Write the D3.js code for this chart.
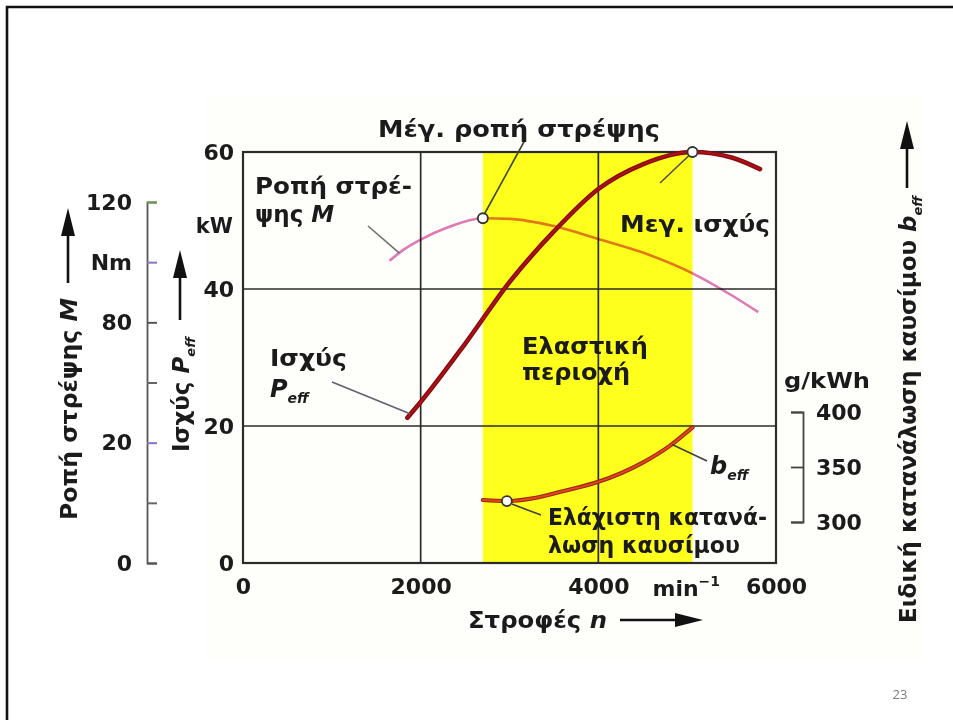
<!DOCTYPE html>
<html>
<head>
<meta charset="utf-8">
<script src="https://cdn.jsdelivr.net/npm/d3@7"></script>
<style>
  html, body { margin: 0; padding: 0; background: #fff; }
  svg { display: block; }
  text { font-family: "DejaVu Sans", sans-serif; font-weight: bold; fill: #1b1b1b; }
  text.page { font-family: "Open Sans", sans-serif; font-weight: normal; fill: #7a7a7a; }
</style>
</head>
<body>
<svg id="chart" width="953" height="720"></svg>
<script>
// Engine speed (min^-1) axis
const speedTicks = [0, 2000, 4000, 6000];
// Effective power P_eff (kW)
const powerTicks = [0, 20, 40, 60];
const powerSpeed = [1850, 2000, 2500, 3000, 3500, 4000, 4500, 5060, 5500, 5820];
const powerValues = [21.2, 23.5, 32.0, 41.0, 48.4, 54.6, 58.2, 60.0, 59.2, 57.5];
// Torque M (Nm)
const torqueTicks = [0, 20, 40, 60, 80, 100, 120];
const torqueTickLabels = ["0", "", "20", "", "80", "Nm", "120"];
const torqueSpeed = [1650, 1800, 2000, 2300, 2700, 3000, 3500, 4000, 4500, 5060, 5500, 5800];
const torqueValues = [100.5, 104, 107.5, 111.5, 114.6, 114.4, 112, 107.7, 103.2, 96.3, 89, 83.4];
// Specific fuel consumption b_eff (g/kWh)
const bTicks = [300, 350, 400];
const bSpeed = [2700, 2970, 3300, 3600, 4000, 4500, 4800, 5060];
const bValues = [320, 319, 322, 328, 336.5, 354, 369, 386];
// Elastic range: from max torque speed to max power speed
const elasticRange = [2700, 5060];
const maxTorque = { n: 2700, m: 114.6 };
const maxPower = { n: 5060, p: 60 };
const minConsumption = { n: 2970, b: 319 };

const svg = d3.select("#chart");

const x = d3.scaleLinear().domain([0, 6000]).range([243, 776]);
const yP = d3.scaleLinear().domain([0, 60]).range([563, 152]);
const yM = d3.scaleLinear().domain([0, 120]).range([563, 202]);
const yB = d3.scaleLinear().domain([300, 400]).range([522, 412]);

// slide frame
svg.append("line").attr("x1", 6).attr("x2", 953).attr("y1", 7).attr("y2", 7)
  .attr("stroke", "#111").attr("stroke-width", 2.6);
svg.append("line").attr("x1", 7).attr("x2", 7).attr("y1", 6).attr("y2", 720)
  .attr("stroke", "#111").attr("stroke-width", 2.6);

// very faint paper tone behind the figure
svg.append("rect").attr("x", 205).attr("y", 95).attr("width", 719).attr("height", 565)
  .attr("fill", "#fefefb");

// elastic range band
svg.append("rect")
  .attr("x", x(elasticRange[0])).attr("y", yP(60))
  .attr("width", x(elasticRange[1]) - x(elasticRange[0]))
  .attr("height", yP(0) - yP(60))
  .attr("fill", "#ffff1e");

// grid
const grid = svg.append("g").attr("stroke", "#2b2b2b").attr("stroke-width", 1.7);
[2000, 4000].forEach(v => grid.append("line")
  .attr("x1", x(v)).attr("x2", x(v)).attr("y1", yP(0)).attr("y2", yP(60)));
[20, 40].forEach(v => grid.append("line")
  .attr("x1", x(0)).attr("x2", x(6000)).attr("y1", yP(v)).attr("y2", yP(v)));
svg.append("rect")
  .attr("x", x(0)).attr("y", yP(60))
  .attr("width", x(6000) - x(0)).attr("height", yP(0) - yP(60))
  .attr("fill", "none").attr("stroke", "#2b2b2b").attr("stroke-width", 2.2);

const fontAxis = g => g.attr("font-family", "DejaVu Sans").attr("font-size", 22).attr("font-weight", "bold");

// power axis (left edge of plot)
svg.append("g").attr("transform", `translate(${x(0)},0)`)
  .call(d3.axisLeft(yP).tickValues(powerTicks).tickSize(0).tickPadding(9))
  .call(fontAxis)
  .call(g => g.select(".domain").remove())
  .call(g => g.selectAll("text").attr("fill", "#1b1b1b"));
svg.append("text").attr("x", 233).attr("y", 233).attr("text-anchor", "end")
  .attr("font-size", 21).text("kW");

// speed axis
svg.append("g").attr("transform", `translate(0,${yP(0)})`)
  .call(d3.axisBottom(x).tickValues(speedTicks).tickSize(0).tickPadding(15).tickFormat(d3.format("d")))
  .call(fontAxis)
  .call(g => g.select(".domain").remove())
  .call(g => g.selectAll("text").attr("fill", "#1b1b1b"));
const unit = svg.append("text").attr("x", x(4990)).attr("y", 596)
  .attr("text-anchor", "middle").attr("font-size", 22);
unit.append("tspan").text("min");
unit.append("tspan").attr("font-size", 14).attr("dy", -10).text("−1");

// torque axis
const torqueTickColor = ["#555", "#666", "#8d72c8", "#666", "#555", "#8d72c8", "#6f9c4f"];
svg.append("g").attr("transform", "translate(147,0)")
  .call(d3.axisLeft(yM).tickValues(torqueTicks).tickSize(-10).tickSizeOuter(-10).tickPadding(15)
    .tickFormat((d, i) => torqueTickLabels[i]))
  .call(fontAxis)
  .call(g => g.select(".domain").attr("stroke", "#555").attr("stroke-width", 1.8))
  .call(g => g.selectAll(".tick line").attr("stroke", (d, i) => torqueTickColor[i]).attr("stroke-width", 2))
  .call(g => g.selectAll("text").attr("fill", "#1b1b1b"));

// fuel consumption axis (bracket)
svg.append("g").attr("transform", "translate(803,0)")
  .call(d3.axisRight(yB).tickValues(bTicks).tickSize(-12).tickSizeOuter(-12).tickPadding(13))
  .call(fontAxis)
  .call(g => g.select(".domain").attr("stroke", "#444").attr("stroke-width", 1.8))
  .call(g => g.selectAll(".tick line").attr("stroke", "#444").attr("stroke-width", 1.8))
  .call(g => g.selectAll("text").attr("fill", "#1b1b1b"));
svg.append("text").attr("x", 784).attr("y", 388).attr("font-size", 21)
  .attr("textLength", 86).attr("lengthAdjust", "spacingAndGlyphs").text("g/kWh");

// curves
const curve = d3.curveMonotoneX;
const torqueLine = d3.line().x((d, i) => x(torqueSpeed[i])).y(d => yM(d)).curve(curve);
const powerLine = d3.line().x((d, i) => x(powerSpeed[i])).y(d => yP(d)).curve(curve);
const bLine = d3.line().x((d, i) => x(bSpeed[i])).y(d => yB(d)).curve(curve);

svg.append("path").attr("d", torqueLine(torqueValues))
  .attr("fill", "none").attr("stroke", "#e07ab6").attr("stroke-width", 2.6)
  .style("mix-blend-mode", "multiply");

svg.append("path").attr("d", bLine(bValues))
  .attr("fill", "none").attr("stroke", "#8e2a12").attr("stroke-width", 4.2).attr("stroke-linecap", "round");
svg.append("path").attr("d", bLine(bValues))
  .attr("fill", "none").attr("stroke", "#e8431c").attr("stroke-width", 2).attr("stroke-linecap", "round");

svg.append("path").attr("d", powerLine(powerValues))
  .attr("fill", "none").attr("stroke", "#860a10").attr("stroke-width", 4.6).attr("stroke-linecap", "round");
svg.append("path").attr("d", powerLine(powerValues))
  .attr("fill", "none").attr("stroke", "#ad1118").attr("stroke-width", 2).attr("stroke-linecap", "round");

// leader lines
const leader = (x1, y1, x2, y2, c) => svg.append("line")
  .attr("x1", x1).attr("y1", y1).attr("x2", x2).attr("y2", y2)
  .attr("stroke", c || "#555").attr("stroke-width", 1.6);
leader(x(maxTorque.n) + 2, yM(maxTorque.m) - 5, 525, 140, "#3d4a2a");
leader(368, 226, x(1760), yM(103), "#707070");
leader(660, 183, x(maxPower.n) - 4, yP(maxPower.p) + 4, "#505050");
leader(332, 382, x(1880), yP(21.8), "#606070");
leader(x(4830), yB(370.5), 707, 461, "#404040");
leader(x(minConsumption.n) + 5, yB(minConsumption.b) + 3, 541, 515, "#404040");

// markers
[[x(maxTorque.n), yM(maxTorque.m)], [x(maxPower.n), yP(maxPower.p)],
 [x(minConsumption.n), yB(minConsumption.b)]].forEach(([cx, cy]) =>
  svg.append("circle").attr("cx", cx).attr("cy", cy).attr("r", 5)
    .attr("fill", "#fff").attr("stroke", "#333").attr("stroke-width", 1.8));

// annotations
const label = (tx, ty, str, w) => {
  const t = svg.append("text").attr("x", tx).attr("y", ty).attr("font-size", 23).text(str);
  if (w) t.attr("textLength", w).attr("lengthAdjust", "spacingAndGlyphs");
  return t;
};
label(378, 137, "Μέγ. ροπή στρέψης", 282);
label(255, 194, "Ροπή στρέ-", 157);
const psi = label(255, 222, "ψης ");
psi.append("tspan").attr("font-style", "italic").text("M");
label(620, 232, "Μεγ. ισχύς", 150);
label(270, 366, "Ισχύς", 77);
const pe = svg.append("text").attr("x", 270).attr("y", 397).attr("font-size", 24);
pe.append("tspan").attr("font-style", "italic").text("P");
pe.append("tspan").attr("font-size", 14).attr("font-style", "italic").attr("dy", 6).text("eff");
label(522, 354, "Ελαστική", 126);
label(522, 380, "περιοχή", 108);
const be = svg.append("text").attr("x", 710).attr("y", 474).attr("font-size", 24);
be.append("tspan").attr("font-style", "italic").text("b");
be.append("tspan").attr("font-size", 14).attr("font-style", "italic").attr("dy", 6).text("eff");
label(548, 525, "Ελάχιστη κατανά-", 219);
label(548, 553, "λωση καυσίμου", 192);

// arrow from (x1,y1) to tip (x2,y2)
function arrow(x1, y1, x2, y2) {
  const ang = Math.atan2(y2 - y1, x2 - x1);
  const len = 28, half = 7;
  const bx = x2 - len * Math.cos(ang), by = y2 - len * Math.sin(ang);
  svg.append("line").attr("x1", x1).attr("y1", y1).attr("x2", bx).attr("y2", by)
    .attr("stroke", "#111").attr("stroke-width", 2.6);
  const px = -Math.sin(ang) * half, py = Math.cos(ang) * half;
  svg.append("path")
    .attr("d", `M${x2},${y2}L${bx + px},${by + py}L${bx - px},${by - py}Z`)
    .attr("fill", "#111");
}

// x title
const xt = svg.append("text").attr("x", 468).attr("y", 628).attr("font-size", 23)
  .attr("textLength", 139).attr("lengthAdjust", "spacingAndGlyphs");
xt.append("tspan").text("Στροφές ");
xt.append("tspan").attr("font-style", "italic").text("n");
arrow(620, 620, 703, 620);

// left titles (rotated)
const mt = svg.append("text").attr("transform", "translate(77,520) rotate(-90)").attr("font-size", 23)
  .attr("textLength", 222).attr("lengthAdjust", "spacingAndGlyphs");
mt.append("tspan").text("Ροπή στρέψης ");
mt.append("tspan").attr("font-style", "italic").text("M");
arrow(68, 283, 68, 208);

const pt = svg.append("text").attr("transform", "translate(189,452) rotate(-90)").attr("font-size", 23);
pt.append("tspan").text("Ισχύς ");
pt.append("tspan").attr("font-style", "italic").text("P");
pt.append("tspan").attr("font-size", 13).attr("font-style", "italic").attr("dy", 6).text("eff");
arrow(180, 320, 180, 250);

const bt = svg.append("text").attr("transform", "translate(916,623) rotate(-90)").attr("font-size", 23)
  .attr("textLength", 427).attr("lengthAdjust", "spacingAndGlyphs");
bt.append("tspan").text("Ειδική κατανάλωση καυσίμου ");
bt.append("tspan").attr("font-style", "italic").text("b");
bt.append("tspan").attr("font-size", 13).attr("font-style", "italic").attr("dy", 6).text("eff");
arrow(907, 188, 907, 121);

// slide number
svg.append("text").attr("class", "page").attr("x", 900).attr("y", 699)
  .attr("text-anchor", "middle").attr("font-size", 13).text("23");
</script>
</body>
</html>
